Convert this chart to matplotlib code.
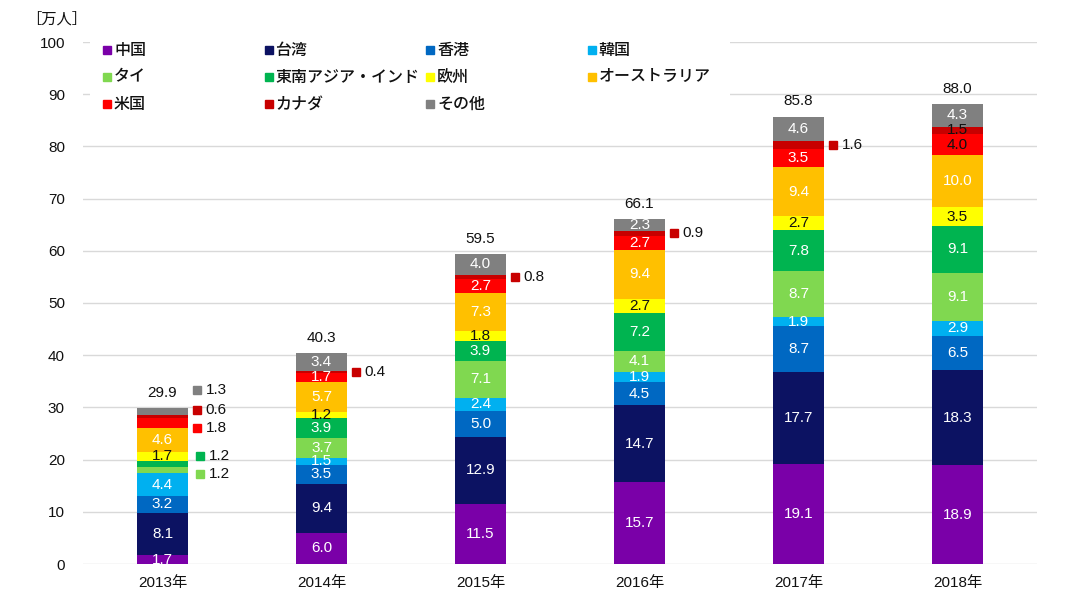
import numpy as np
import matplotlib
matplotlib.use('Agg')
import matplotlib.pyplot as plt

plt.rcParams['font.family'] = ['Liberation Sans', 'Noto Sans CJK JP', 'DejaVu Sans']

##==============================================================================
years = ['2013年', '2014年', '2015年', '2016年', '2017年', '2018年']
series = ['中国', '台湾', '香港', '韓国', 'タイ', '東南アジア・インド',
          '欧州', 'オーストラリア', '米国', 'カナダ', 'その他']
china     = [1.7, 6.0, 11.5, 15.7, 19.1, 18.9]
taiwan    = [8.1, 9.4, 12.9, 14.7, 17.7, 18.3]
hongkong  = [3.2, 3.5, 5.0, 4.5, 8.7, 6.5]
korea     = [4.4, 1.5, 2.4, 1.9, 1.9, 2.9]
thai      = [1.2, 3.7, 7.1, 4.1, 8.7, 9.1]
sea_india = [1.2, 3.9, 3.9, 7.2, 7.8, 9.1]
europe    = [1.7, 1.2, 1.8, 2.7, 2.7, 3.5]
australia = [4.6, 5.7, 7.3, 9.4, 9.4, 10.0]
usa       = [1.8, 1.7, 2.7, 2.7, 3.5, 4.0]
canada    = [0.6, 0.4, 0.8, 0.9, 1.6, 1.5]
other     = [1.3, 3.4, 4.0, 2.3, 4.6, 4.3]
totals    = [29.9, 40.3, 59.5, 66.1, 85.8, 88.0]

values = np.array([china, taiwan, hongkong, korea, thai, sea_india,
                   europe, australia, usa, canada, other])

colors = ['#7a00a8', '#0c1262', '#0068c2', '#00b0f0', '#80d850', '#00b450',
          '#ffff00', '#ffc000', '#ff0000', '#c80000', '#808080']

# segments labelled beside the bar instead of inside: (series index, year index)
outside = [(4, 0), (5, 0), (8, 0), (9, 0), (10, 0),
           (9, 1), (9, 2), (9, 3), (9, 4)]
# 2013 callouts are spread apart (y in data units)
callout_y = {(10, 0): 33.3, (9, 0): 29.5, (8, 0): 26.1, (5, 0): 20.6, (4, 0): 17.2}
black_labels = [(6, j) for j in range(6)] + [(8, 5), (9, 5)]

##==============================================================================
W, H = 1080, 606
fig = plt.figure(figsize=(W / 100, H / 100), dpi=100)
ax = fig.add_axes([83 / W, 1 - 564 / H, (1037 - 83) / W, (564 - 42) / H])

x = np.arange(len(years))
bw = 0.32
bottom = np.zeros(len(years))
for i, name in enumerate(series):
    ax.bar(x, values[i], bw, bottom=bottom, color=colors[i], label=name,
           edgecolor='none', zorder=3)
    for j in range(len(years)):
        v = values[i, j]
        if (i, j) in outside:
            yc = callout_y.get((i, j), bottom[j] + v / 2)
            dx = 0.215 if i not in (4, 5) else 0.235
            ax.plot(x[j] + dx, yc, marker='s', ms=5.5, color=colors[i],
                    ls='none', zorder=4, clip_on=False)
            ax.text(x[j] + dx + 0.055, yc, '%.1f' % v, ha='left', va='center',
                    fontsize=11, color='#111111', zorder=4)
        else:
            c = '#111111' if (i, j) in black_labels else 'white'
            ax.text(x[j], bottom[j] + v / 2, '%.1f' % v, ha='center',
                    va='center', fontsize=11, color=c, zorder=4)
    bottom += values[i]

for j, t in enumerate(totals):
    ax.annotate('%.1f' % t, (x[j], bottom[j]), xytext=(0, 6),
                textcoords='offset points', ha='center', va='bottom',
                fontsize=11, color='#111111')

ax.set_xlim(-0.5, 5.5)
ax.set_ylim(0, 100)
ax.set_yticks(np.arange(0, 101, 10))
ax.set_xticks(x)
ax.set_xticklabels(years)
ax.tick_params(axis='both', length=0, labelsize=11, colors='#111111')
ax.tick_params(axis='y', pad=13)
ax.tick_params(axis='x', pad=9)
ax.grid(axis='y', color='#d9d9d9', lw=1, zorder=0)
for s in ax.spines.values():
    s.set_visible(False)

fig.text(26 / W, 1 - 19 / H, '［万人］', ha='left', va='center', fontsize=11,
         color='#111111')

# legend: fixed-width columns on a white box
fig.patches.append(plt.Rectangle((90 / W, 1 - 117 / H), 640 / W, 82 / H,
                                 transform=fig.transFigure, facecolor='white',
                                 edgecolor='none', zorder=5))
for k, name in enumerate(series):
    r, c = divmod(k, 4)
    px = 107 + 161.5 * c
    py = 50 + 27 * r
    fig.lines.append(plt.Line2D([px / W], [1 - py / H], marker='s', ms=6,
                                color=colors[k], ls='none',
                                transform=fig.transFigure, zorder=6))
    fig.text((px + 7) / W, 1 - py / H, name, ha='left', va='center',
             fontsize=11.5, fontweight='medium', color='#111111', zorder=6)

plt.savefig('out.png', dpi=100)
